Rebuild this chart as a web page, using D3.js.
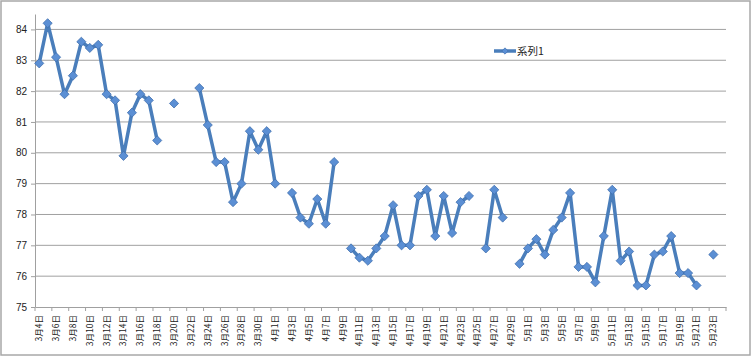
<!DOCTYPE html>
<html>
<head>
<meta charset="utf-8">
<script src="https://cdn.jsdelivr.net/npm/d3@7"></script>
<style>
  html, body { margin: 0; padding: 0; background: #fff; }
  svg { display: block; }
</style>
</head>
<body>
<svg id="chart" width="752" height="358"></svg>
<script>
const categories = [
  "3月4日","3月5日","3月6日","3月7日","3月8日","3月9日","3月10日","3月11日","3月12日","3月13日",
  "3月14日","3月15日","3月16日","3月17日","3月18日","3月19日","3月20日","3月21日","3月22日","3月23日",
  "3月24日","3月25日","3月26日","3月27日","3月28日","3月29日","3月30日","3月31日",
  "4月1日","4月2日","4月3日","4月4日","4月5日","4月6日","4月7日","4月8日","4月9日","4月10日",
  "4月11日","4月12日","4月13日","4月14日","4月15日","4月16日","4月17日","4月18日","4月19日","4月20日",
  "4月21日","4月22日","4月23日","4月24日","4月25日","4月26日","4月27日","4月28日","4月29日","4月30日",
  "5月1日","5月2日","5月3日","5月4日","5月5日","5月6日","5月7日","5月8日","5月9日","5月10日",
  "5月11日","5月12日","5月13日","5月14日","5月15日","5月16日","5月17日","5月18日","5月19日","5月20日",
  "5月21日","5月22日","5月23日","5月24日"
];
const series1 = [
  82.9, 84.2, 83.1, 81.9, 82.5, 83.6, 83.4, 83.5, 81.9, 81.7,
  79.9, 81.3, 81.9, 81.7, 80.4, null, 81.6, null, null, 82.1,
  80.9, 79.7, 79.7, 78.4, 79.0, 80.7, 80.1, 80.7,
  79.0, null, 78.7, 77.9, 77.7, 78.5, 77.7, 79.7, null, 76.9,
  76.6, 76.5, 76.9, 77.3, 78.3, 77.0, 77.0, 78.6, 78.8, 77.3,
  78.6, 77.4, 78.4, 78.6, null, 76.9, 78.8, 77.9, null, 76.4,
  76.9, 77.2, 76.7, 77.5, 77.9, 78.7, 76.3, 76.3, 75.8, 77.3,
  78.8, 76.5, 76.8, 75.7, 75.7, 76.7, 76.8, 77.3, 76.1, 76.1,
  75.7, null, 76.7, null
];
const seriesName = "系列1";
const yTicks = [75, 76, 77, 78, 79, 80, 81, 82, 83, 84];
const xTickLabels = categories.filter((d, i) => i % 2 === 0);

const svg = d3.select("#chart");
const FONT = "'Liberation Sans', Arial, 'Noto Sans CJK JP', sans-serif";
const LINE = "#4a7ebb";

// chart frame
svg.append("rect").attr("x", 1).attr("y", 1).attr("width", 749).attr("height", 354)
  .attr("fill", "#fff").attr("stroke", "#a8a8a8").attr("stroke-width", 1.5);

const x = d3.scaleBand().domain(categories).range([35, 726]).paddingInner(0).paddingOuter(0);
const y = d3.scaleLinear().domain([75, 84.5]).range([307, 14]);
const cx = d => x(d) + x.bandwidth() / 2;

// gridlines
svg.append("g").selectAll("line").data(yTicks.filter(t => t !== 75)).join("line")
  .attr("x1", x.range()[0]).attr("x2", x.range()[1])
  .attr("y1", d => y(d)).attr("y2", d => y(d))
  .attr("stroke", "#a0a0a0").attr("stroke-width", 1);

// y axis
const yAxis = svg.append("g").attr("transform", `translate(${x.range()[0]},0)`)
  .call(d3.axisLeft(y).tickValues(yTicks).tickSize(4).tickPadding(4).tickSizeOuter(0));
yAxis.select(".domain").attr("stroke", "#a0a0a0");
yAxis.selectAll(".tick line").attr("stroke", "#a0a0a0");
yAxis.selectAll(".tick text").attr("font-family", FONT).attr("font-size", 10).attr("fill", "#222");

// x axis
const xAxis = svg.append("g").attr("transform", `translate(0,${y(75)})`)
  .call(d3.axisBottom(x).tickValues(xTickLabels).tickSize(0).tickSizeOuter(0));
xAxis.select(".domain").attr("stroke", "#a0a0a0");
xAxis.selectAll(".tick text")
  .attr("font-family", "'Noto Sans CJK JP', sans-serif").attr("font-size", 8.5).attr("fill", "#222")
  .attr("transform", "rotate(-90)")
  .attr("x", -8).attr("y", 0).attr("dy", "0.35em")
  .style("text-anchor", "end");
// x tick marks at category boundaries (every 2 categories)
const boundaries = xTickLabels.map(d => x(d)).concat([x.range()[1]]);
svg.append("g").selectAll("line").data(boundaries).join("line")
  .attr("x1", d => d).attr("x2", d => d)
  .attr("y1", y(75)).attr("y2", y(75) + 4)
  .attr("stroke", "#a0a0a0");

// line
const data = categories.map((c, i) => ({ c, v: series1[i] }));
const line = d3.line().defined(d => d.v !== null).x(d => cx(d.c)).y(d => y(d.v));
svg.append("path").datum(data).attr("d", line)
  .attr("fill", "none").attr("stroke", LINE).attr("stroke-width", 3.5)
  .attr("stroke-linejoin", "round").attr("stroke-linecap", "round");

// markers
const diamond = d3.symbol(d3.symbolSquare, 42);
svg.append("g").selectAll("path").data(data.filter(d => d.v !== null)).join("path")
  .attr("d", diamond)
  .attr("transform", d => `translate(${cx(d.c)},${y(d.v)}) rotate(45)`)
  .attr("fill", "#5b8fd4").attr("stroke", "#3d6cab").attr("stroke-width", 0.7);

// legend
const lg = svg.append("g").attr("transform", "translate(494,51)");
lg.append("line").attr("x1", 0).attr("x2", 22).attr("y1", 0).attr("y2", 0)
  .attr("stroke", LINE).attr("stroke-width", 3.5);
lg.append("path").attr("d", d3.symbol(d3.symbolSquare, 20))
  .attr("transform", "translate(11,0) rotate(45)")
  .attr("fill", "#5b8fd4").attr("stroke", "#3d6cab").attr("stroke-width", 0.6);
lg.append("text").attr("x", 23).attr("y", 0).attr("dy", "0.35em")
  .attr("font-family", "'Noto Sans CJK JP', sans-serif").attr("font-size", 10.5).attr("fill", "#222")
  .text(seriesName);
</script>
</body>
</html>
